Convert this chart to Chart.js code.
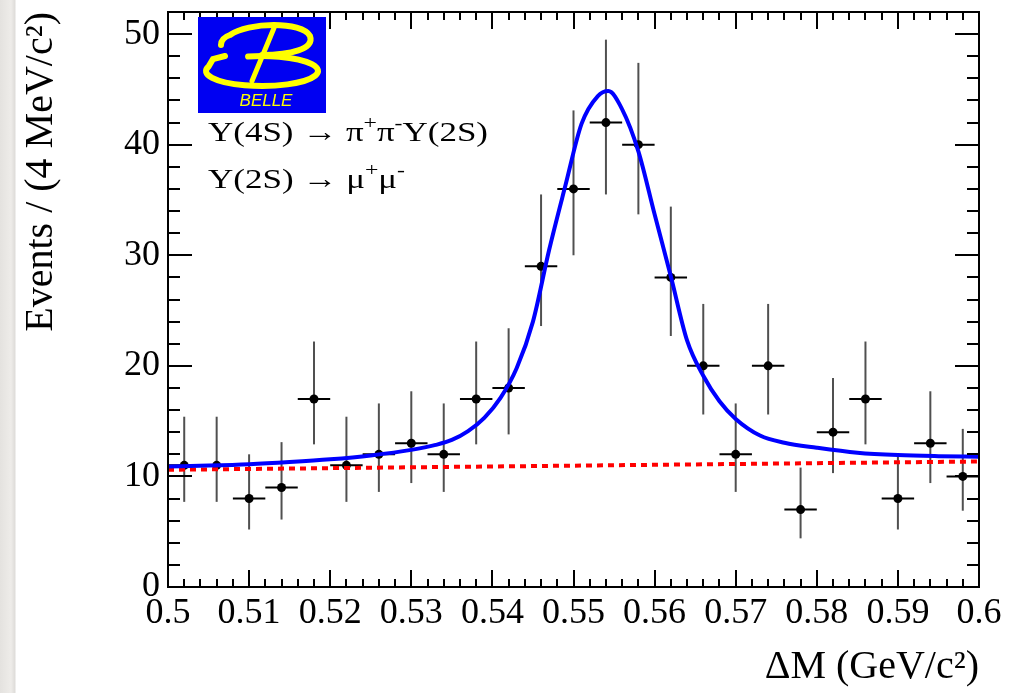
<!DOCTYPE html>
<html lang="en">
<head>
<meta charset="UTF-8">
<title>Belle ΔM fit</title>
<style>
    body {
        margin: 0;
        background: linear-gradient(to right, #e4e2df 0px, #eeece9 11px, #dedcd9 15px, #ffffff 16px);
    }

    #wrap {
        position: relative;
        width: 1018px;
        height: 693px;
    }
</style>
</head>
<body>
<div id="wrap"><canvas id="chart" width="1018" height="693"></canvas></div>
<script src="https://cdn.jsdelivr.net/npm/chart.js@4.4.1/dist/chart.umd.min.js"></script>
<script>
    // data: bin centres (4 MeV bins), counts, asymmetric errors
    const binCenters = [0.502, 0.506, 0.510, 0.514, 0.518, 0.522, 0.526, 0.530, 0.534, 0.538, 0.542, 0.546, 0.550,
        0.554, 0.558, 0.562, 0.566, 0.570, 0.574, 0.578, 0.582, 0.586, 0.590, 0.594, 0.598];
    const events = [11, 11, 8, 9, 17, 11, 12, 13, 12, 17, 18, 29, 36, 42, 40, 28, 20, 12, 20, 7, 14, 17, 8, 13, 10];
    const errLow = [3.3, 3.3, 2.8, 2.9, 4.1, 3.3, 3.4, 3.6, 3.4, 4.1, 4.2, 5.4, 6.0, 6.5, 6.3, 5.3, 4.4, 3.4, 4.4, 2.6,
        3.7, 4.1, 2.8, 3.6, 3.1];
    const errHigh = [4.4, 4.4, 4.0, 4.1, 5.2, 4.4, 4.6, 4.7, 4.6, 5.2, 5.4, 6.5, 7.1, 7.5, 7.4, 6.4, 5.6, 4.6, 5.6, 3.8,
        4.9, 5.2, 4.0, 4.7, 4.3];
    const binHalfWidth = 0.002;

    // total fit (blue) and background (red dashed)
    const fitX = [0.500, 0.505, 0.510, 0.515, 0.520, 0.525, 0.530, 0.533, 0.535, 0.537, 0.539, 0.541, 0.543, 0.545,
        0.547, 0.549, 0.551, 0.553, 0.5543, 0.556, 0.558, 0.560, 0.562, 0.564, 0.566, 0.568, 0.570, 0.573, 0.576,
        0.580, 0.585, 0.590, 0.595, 0.600];
    const fitY = [10.9, 10.98, 11.1, 11.3, 11.55, 11.9, 12.4, 12.85, 13.3, 14.1, 15.3, 17.1, 19.8, 24.0, 30.5, 36.3,
        41.9, 44.4, 44.85, 43.2, 39.4, 33.7, 28.1, 22.3, 19.1, 16.8, 15.2, 13.7, 13.05, 12.6, 12.15, 11.93, 11.83,
        11.78];
    const bkgX = [0.5, 0.6];
    const bkgY = [10.6, 11.35];

    const xTickVals = [0.5, 0.51, 0.52, 0.53, 0.54, 0.55, 0.56, 0.57, 0.58, 0.59, 0.6];
    const xTickLabels = ['0.5', '0.51', '0.52', '0.53', '0.54', '0.55', '0.56', '0.57', '0.58', '0.59', '0.6'];
    const yTickVals = [0, 10, 20, 30, 40, 50];
    const yTickLabels = ['0', '10', '20', '30', '40', '50'];

    const serif = "'Liberation Serif', 'DejaVu Serif', serif";

    const errorBars = {
        id: 'errorBars',
        beforeDatasetsDraw(chart) {
            const {ctx, chartArea, scales: {x, y}} = chart;
            ctx.save();
            ctx.beginPath();
            ctx.rect(chartArea.left, chartArea.top, chartArea.width, chartArea.height);
            ctx.clip();
            ctx.lineWidth = 2;
            binCenters.forEach((c, i) => {
                const px = x.getPixelForValue(c);
                const py = y.getPixelForValue(events[i]);
                ctx.strokeStyle = '#505050';
                ctx.beginPath();
                ctx.moveTo(px, y.getPixelForValue(events[i] + errHigh[i]));
                ctx.lineTo(px, y.getPixelForValue(events[i] - errLow[i]));
                ctx.stroke();
                ctx.strokeStyle = '#000';
                ctx.beginPath();
                ctx.moveTo(x.getPixelForValue(c - binHalfWidth), py);
                ctx.lineTo(x.getPixelForValue(c + binHalfWidth), py);
                ctx.stroke();
            });
            ctx.restore();
        }
    };

    // ROOT style frame with inward ticks on all four sides
    const frame = {
        id: 'frame',
        afterDatasetsDraw(chart) {
            const {ctx, chartArea: a, scales: {x, y}} = chart;
            ctx.save();
            ctx.strokeStyle = '#000';
            ctx.lineWidth = 2;
            ctx.strokeRect(a.left, a.top, a.width, a.height);
            ctx.beginPath();
            for (let k = 0; k <= 50; k++) {
                const v = 0.5 + k * 0.002;
                const px = Math.round(x.getPixelForValue(v));
                const len = k % 5 === 0 ? 17 : 8;
                ctx.moveTo(px, a.bottom);
                ctx.lineTo(px, a.bottom - len);
                ctx.moveTo(px, a.top);
                ctx.lineTo(px, a.top + len);
            }
            for (let v = 0; v <= 52; v += 2) {
                const py = Math.round(y.getPixelForValue(v));
                const len = v % 10 === 0 ? 24 : 12;
                ctx.moveTo(a.left, py);
                ctx.lineTo(a.left + len, py);
                ctx.moveTo(a.right, py);
                ctx.lineTo(a.right - len, py);
            }
            ctx.stroke();
            ctx.restore();
        },
        afterDraw(chart) {
            const ctx = chart.ctx;
            drawLogo(ctx);
            drawRich(ctx, 208, 141, 280, [['Υ(4S) → π'], ['+', 1], ['π'], ['-', 1], ['Υ(2S)']]);
            drawRich(ctx, 208, 188, 197, [['Υ(2S) → μ'], ['+', 1], ['μ'], ['-', 1]]);
        }
    };

    // label with superscripts, stretched sideways to the width it has in the original
    function drawRich(ctx, x0, base, width, parts) {
        ctx.save();
        ctx.fillStyle = '#000';
        ctx.textBaseline = 'alphabetic';
        let w = 0;
        parts.forEach(([t, sup]) => {
            ctx.font = (sup ? '19px ' : '28px ') + serif;
            w += ctx.measureText(t).width;
        });
        ctx.translate(x0, base);
        ctx.scale(width / w, 1);
        let px = 0;
        parts.forEach(([t, sup]) => {
            ctx.font = (sup ? '19px ' : '28px ') + serif;
            ctx.fillText(t, px, sup ? -12 : 0);
            px += ctx.measureText(t).width;
        });
        ctx.restore();
    }

    function drawLogo(ctx) {
        ctx.save();
        ctx.fillStyle = '#0000f2';
        ctx.fillRect(198, 17, 128, 96);
        ctx.strokeStyle = '#ffff00';
        ctx.lineWidth = 6;
        ctx.lineCap = 'round';
        // lower loop of the B
        ctx.beginPath();
        ctx.moveTo(225, 56);
        ctx.lineTo(213, 59);
        ctx.ellipse(262, 71, 56, 15, 0, Math.PI * 1.1, -Math.PI * 0.58, true);
        ctx.stroke();
        // upper loop
        ctx.beginPath();
        ctx.moveTo(221, 45);
        ctx.quadraticCurveTo(221, 38, 230, 35);
        ctx.bezierCurveTo(248, 22, 302, 21, 310, 36);
        ctx.bezierCurveTo(315, 49, 290, 55, 262, 55);
        ctx.stroke();
        // slanted stem
        ctx.lineWidth = 5;
        ctx.beginPath();
        ctx.moveTo(274, 28);
        ctx.lineTo(252, 81);
        ctx.stroke();
        ctx.fillStyle = '#ffff00';
        ctx.font = "italic 17px 'Liberation Sans', sans-serif";
        ctx.textAlign = 'center';
        ctx.fillText('BELLE', 266, 106);
        ctx.restore();
    }

    new Chart('chart', {
        type: 'scatter',
        data: {
            datasets: [{
                label: 'Fit',
                data: fitX.map((v, i) => ({x: v, y: fitY[i]})),
                showLine: true,
                borderColor: '#0000ff',
                borderWidth: 4,
                pointRadius: 0,
                cubicInterpolationMode: 'monotone'
            }, {
                label: 'Background',
                data: bkgX.map((v, i) => ({x: v, y: bkgY[i]})),
                showLine: true,
                borderColor: '#ff0000',
                borderWidth: 4,
                borderDash: [6, 5],
                pointRadius: 0
            }, {
                label: 'Data',
                data: binCenters.map((v, i) => ({x: v, y: events[i]})),
                pointRadius: 4.5,
                backgroundColor: '#000',
                borderWidth: 0
            }]
        },
        options: {
            responsive: false,
            animation: false,
            events: [],
            layout: {padding: {left: 17, right: 39, top: 12, bottom: 0}},
            plugins: {legend: {display: false}, tooltip: {enabled: false}},
            scales: {
                x: {
                    type: 'linear',
                    min: 0.5,
                    max: 0.6,
                    grid: {display: false, drawTicks: false},
                    border: {display: false},
                    afterBuildTicks: s => { s.ticks = xTickVals.map(v => ({value: v})); },
                    afterFit: s => {
                        s.height = 106;
                        s.paddingLeft = 0;
                        s.paddingRight = 0;
                    },
                    ticks: {
                        autoSkip: false,
                        maxRotation: 0,
                        padding: 5,
                        color: '#000',
                        font: {family: serif, size: 36},
                        callback: (v, i) => xTickLabels[i]
                    },
                    title: {
                        display: true,
                        text: 'ΔM (GeV/c²)',
                        align: 'end',
                        color: '#000',
                        font: {family: serif, size: 40},
                        padding: {top: 0, bottom: 2}
                    }
                },
                y: {
                    min: 0,
                    max: 52,
                    grid: {display: false, drawTicks: false},
                    border: {display: false},
                    afterBuildTicks: s => { s.ticks = yTickVals.map(v => ({value: v})); },
                    afterFit: s => {
                        s.width = 151;
                        s.paddingTop = 0;
                        s.paddingBottom = 0;
                    },
                    ticks: {
                        autoSkip: false,
                        padding: 8,
                        color: '#000',
                        font: {family: serif, size: 36},
                        callback: (v, i) => yTickLabels[i]
                    },
                    title: {
                        display: true,
                        text: 'Events / (4 MeV/c²)',
                        align: 'end',
                        color: '#000',
                        font: {family: serif, size: 40},
                        padding: {top: 0, bottom: 0}
                    }
                }
            }
        },
        plugins: [errorBars, frame]
    });
</script>
</body>
</html>
